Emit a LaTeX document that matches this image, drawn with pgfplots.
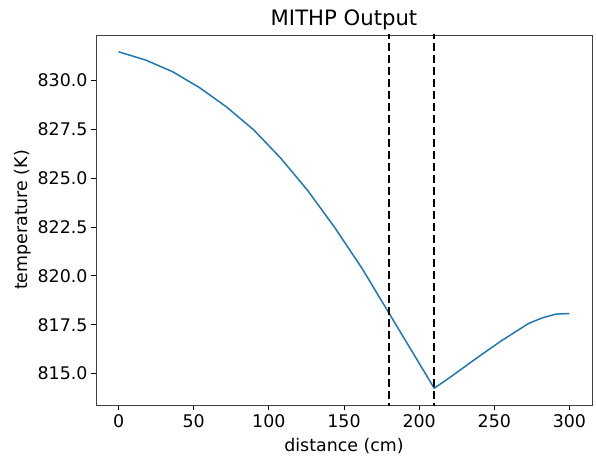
\documentclass[border=0pt]{standalone}
\usepackage{pgfplots}
\pgfplotsset{compat=1.18}
\usepackage{fontspec}
\setmainfont{DejaVu Sans}
\definecolor{mplblue}{HTML}{1F77B4}
\begin{document}
\begin{tikzpicture}
\begin{axis}[
  scale only axis, width=496pt, height=370pt,
  xmin=-15, xmax=315, ymin=813.39, ymax=832.32,
  xtick={0,50,...,300}, ytick={815,817.5,...,830},
  scaled y ticks=false, scaled x ticks=false,
  yticklabel style={/pgf/number format/.cd, fixed, fixed zerofill, precision=1, 1000 sep={}},
  xticklabel style={yshift=-1pt},
  /pgf/number format/assume math mode=true,
  tick align=outside, major tick length=5pt,
  tick style={black, line width=0.8pt},
  axis line style={line width=0.8pt, black!75},
  xtick pos=lower, ytick pos=left,
  ticklabel style={font=\fontsize{17.4}{20}\selectfont},
  label style={font=\fontsize{17.4}{20}\selectfont},
  xlabel={distance (cm)}, ylabel={temperature (K)},
  xlabel style={yshift=-4pt},
  title={MITHP Output}, title style={font=\fontsize{21.2}{25}\selectfont, yshift=-4pt},
  clip=true,
]
\addplot[mplblue, line width=1.5pt] coordinates {
(0,831.46) (18,831.04) (36,830.44) (54,829.62) (72,828.63) (90,827.46)
(108,826.01) (126,824.35) (144,822.45) (162,820.38) (180,818.08)
(210,814.25) (219,814.72) (228,815.22) (237,815.72) (246,816.21)
(255,816.69) (264,817.13) (273,817.57) (282,817.85) (291,818.04) (300,818.07)
};
\addplot[black, line width=1.5pt, dash pattern=on 8pt off 4pt] coordinates {(180,810) (180,835)};
\addplot[black, line width=1.5pt, dash pattern=on 8pt off 4pt] coordinates {(210,810) (210,835)};
\coordinate (A) at (rel axis cs:0,0);
\coordinate (B) at (rel axis cs:1,1);
\end{axis}
\pgfresetboundingbox
\path[use as bounding box] ([xshift=-96pt,yshift=-50pt]A) rectangle ([xshift=4pt,yshift=35pt]B);
\end{tikzpicture}
\end{document}
